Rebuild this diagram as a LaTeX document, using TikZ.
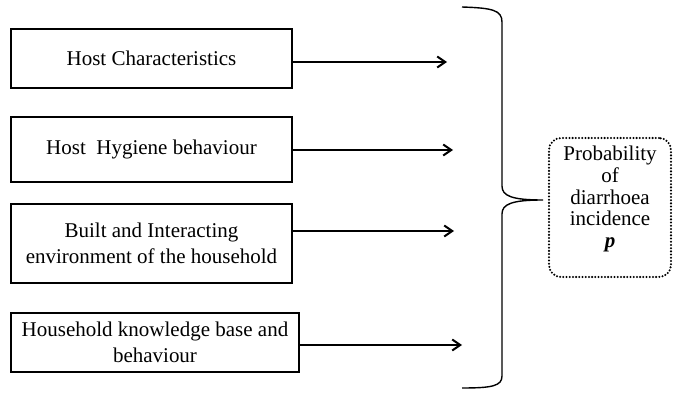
\documentclass[tikz,border=0pt]{standalone}
\usepackage{fontspec}
\setmainfont{Liberation Serif}
\usepackage{tikz}
\usetikzlibrary{arrows.meta}

\begin{document}
\begin{tikzpicture}[x=1pt,y=-1pt,
  factor/.style={draw, line width=2.2pt, align=center, inner sep=0pt,
    font=\fontsize{21}{26}\selectfont},
  outcome/.style={draw, line width=2.3pt, dash pattern=on 0pt off 3.2pt,
    line cap=round, rounded corners=12pt, align=center, inner sep=0pt,
    minimum width=122pt, minimum height=139pt, text depth=21pt,
    font=\fontsize{21}{21.7}\selectfont},
  link/.style={line width=2.2pt, -{Straight Barb[length=8pt,width=11pt,line width=2pt]}}]
\pgfmathsetmacro{\BW}{281}

\useasboundingbox (0,0) rectangle (673,393);

% factors
\node[factor, minimum width=\BW, minimum height=59] (host) at (151.5,58.5) {Host Characteristics};
\node[factor, minimum width=\BW, minimum height=65] (hyg) at (151.5,149.5) {Host~ Hygiene behaviour};
\node[factor, minimum width=\BW, minimum height=79] (env) at (151.5,243.5) {Built and Interacting\\environment of the household};
\node[factor, minimum width=\BW+7, minimum height=59] (know) at (155,342.5) {Household knowledge base and\\behaviour};

% arrow ends
\coordinate (e1) at (447,62);
\coordinate (e2) at (453,150);
\coordinate (e3) at (454,231);
\coordinate (e4) at (462,345);

\draw [link] (host.east |- e1) -- (e1);
\draw [link] (hyg.east |- e2) -- (e2);
\draw [link] (env.east |- e3) -- (e3);
\draw [link] (know.east |- e4) -- (e4);

% brace
\draw [line width=1.4pt] (462,7) .. controls (492,8) and (502,10) .. (502,22)
  -- (502,186) .. controls (502,196) and (512,200) .. (543,200)
  .. controls (512,200) and (502,204) .. (502,214)
  -- (502,376) .. controls (502,386) and (492,388) .. (462,388);

\node[outcome] (prob) at (610,207.5) {Probability\\of\\diarrhoea\\incidence\\\textbf{\textit{p}}};
\end{tikzpicture}
\end{document}
